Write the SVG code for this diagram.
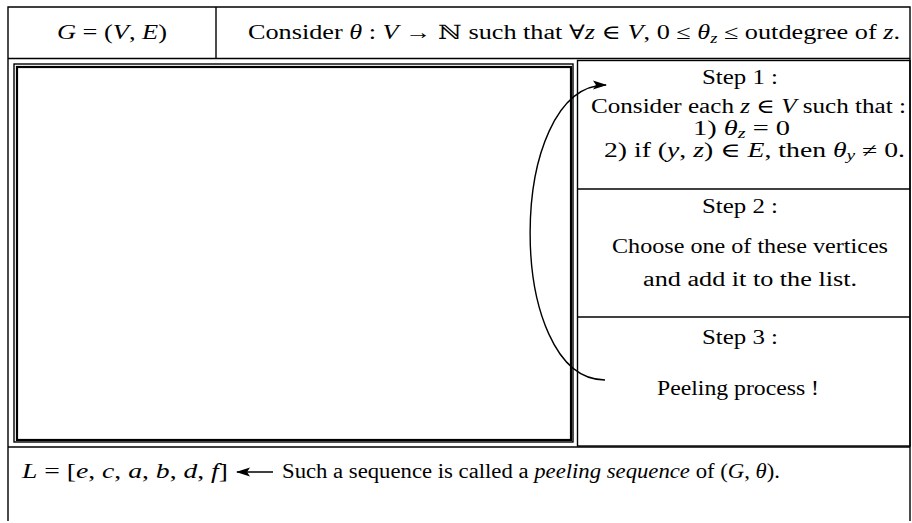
<svg xmlns="http://www.w3.org/2000/svg" width="912" height="523" viewBox="0 0 912 523">
<style>
text{font-family:"Liberation Serif","DejaVu Serif",serif;font-size:20px;fill:#000}
.it{font-style:italic}
.sub{font-size:14px;font-style:italic}
.ln{fill:none;stroke:#000;stroke-width:1.4}
.thick{fill:none;stroke:#000;stroke-width:2.2}
</style>
<defs>
<marker id="ah" markerWidth="14" markerHeight="10" refX="13" refY="5" orient="auto" markerUnits="userSpaceOnUse">
<path d="M0,0.5 L14,5 L0,9.5 L3,5 Z" fill="#000"/>
</marker>
</defs>
<g id="frame">
<path class="ln" d="M8,521 V7 H910 V521"/>
<line class="ln" x1="8" y1="58.5" x2="910" y2="58.5"/>
<line class="ln" x1="216" y1="7" x2="216" y2="58.5"/>
<line class="ln" x1="8" y1="447" x2="910" y2="447"/>
</g>
<g id="header-graph">
<text x="57" y="39" textLength="110" lengthAdjust="spacingAndGlyphs"><tspan class="it">G</tspan> = (<tspan class="it">V</tspan>, <tspan class="it">E</tspan>)</text>
</g>
<g id="header-theta">
<text x="248" y="39" textLength="652" lengthAdjust="spacingAndGlyphs">Consider <tspan class="it">θ</tspan> : <tspan class="it">V</tspan> →  ℕ  such that ∀<tspan class="it">z</tspan> ∈ <tspan class="it">V</tspan>, 0 ≤ <tspan class="it">θ</tspan><tspan class="sub" dy="4">z</tspan><tspan dy="-4"> ≤ outdegree of </tspan><tspan class="it">z</tspan>.</text>
</g>
<g id="graph-area">
<rect class="ln" x="14" y="64" width="559" height="378" stroke-width="1"/>
<rect class="thick" x="17" y="67" width="554" height="373"/>
</g>
<g id="steps">
<rect class="ln" x="577.5" y="60.5" width="332.5" height="385.5"/>
<line class="ln" x1="577.5" y1="189" x2="910" y2="189"/>
<line class="ln" x1="577.5" y1="317" x2="910" y2="317"/>
</g>
<g id="step1">
<text x="702" y="84" textLength="76" lengthAdjust="spacingAndGlyphs">Step 1 :</text>
<text x="591" y="113" textLength="315" lengthAdjust="spacingAndGlyphs">Consider each <tspan class="it">z</tspan> ∈ <tspan class="it">V</tspan> such that :</text>
<text x="693" y="135" textLength="97" lengthAdjust="spacingAndGlyphs">1) <tspan class="it">θ</tspan><tspan class="sub" dy="3">z</tspan><tspan dy="-3"> = 0</tspan></text>
<text x="604" y="157" textLength="301" lengthAdjust="spacingAndGlyphs">2) if (<tspan class="it">y</tspan>, <tspan class="it">z</tspan>) ∈ <tspan class="it">E</tspan>, then <tspan class="it">θ</tspan><tspan class="sub" dy="3">y</tspan><tspan dy="-3"> ≠ 0.</tspan></text>
</g>
<g id="step2">
<text x="702" y="213" textLength="76" lengthAdjust="spacingAndGlyphs">Step 2 :</text>
<text x="612" y="253" textLength="276" lengthAdjust="spacingAndGlyphs">Choose one of these vertices</text>
<text x="643" y="286" textLength="214" lengthAdjust="spacingAndGlyphs">and add it to the list.</text>
</g>
<g id="step3">
<text x="702" y="344" textLength="76" lengthAdjust="spacingAndGlyphs">Step 3 :</text>
<text x="657" y="395" textLength="162" lengthAdjust="spacingAndGlyphs">Peeling process !</text>
</g>
<g id="sequence">
<text x="22" y="478" textLength="206" lengthAdjust="spacingAndGlyphs"><tspan class="it">L</tspan> = [<tspan class="it">e</tspan>, <tspan class="it">c</tspan>, <tspan class="it">a</tspan>, <tspan class="it">b</tspan>, <tspan class="it">d</tspan>, <tspan class="it">f</tspan>]</text>
<text x="282" y="478" textLength="498" lengthAdjust="spacingAndGlyphs">Such a sequence is called a <tspan class="it">peeling sequence</tspan> of (<tspan class="it">G</tspan>, <tspan class="it">θ</tspan>).</text>
</g>
<g id="connectors">
<path class="ln" d="M605,380 C505,380 505,85 606,85" marker-end="url(#ah)"/>
<line class="ln" x1="273" y1="472" x2="237" y2="472" stroke-width="2" marker-end="url(#ah)"/>
</g>
</svg>
